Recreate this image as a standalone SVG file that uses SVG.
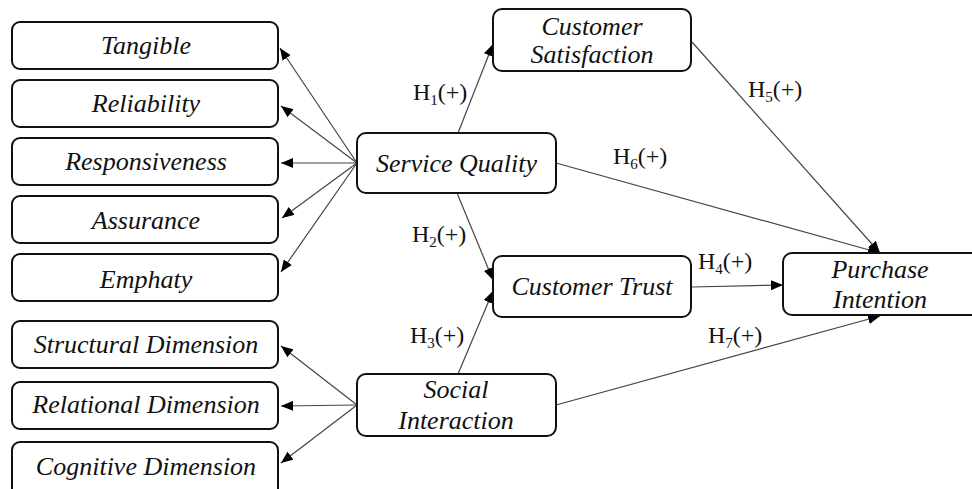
<svg xmlns="http://www.w3.org/2000/svg" width="972" height="489" viewBox="0 0 972 489">
<defs>
<marker id="ah" markerUnits="userSpaceOnUse" markerWidth="12" markerHeight="10" refX="12" refY="5" orient="auto">
<path d="M0,0 L12,5 L0,10 z" fill="#000"/>
</marker>
<style>
.box{fill:#fff;stroke:#111;stroke-width:2}
.nt{font-family:"Liberation Serif","Times New Roman",serif;font-size:26px;font-style:italic;fill:#111;text-anchor:middle}
.h{font-family:"Liberation Serif","Times New Roman",serif;font-size:24px;fill:#111}
.sub{font-size:15px}
.c{stroke:#444;stroke-width:1.2;fill:none;marker-end:url(#ah)}
</style>
</defs>
<rect width="972" height="489" fill="#fff"/>
<g id="connectors">
<line class="c" x1="357" y1="163" x2="280" y2="48"/>
<line class="c" x1="357" y1="163" x2="281" y2="106"/>
<line class="c" x1="357" y1="163" x2="281" y2="163"/>
<line class="c" x1="357" y1="163" x2="282" y2="218"/>
<line class="c" x1="357" y1="163" x2="281" y2="272"/>
<line class="c" x1="357" y1="405" x2="281" y2="346"/>
<line class="c" x1="357" y1="405" x2="281" y2="406"/>
<line class="c" x1="357" y1="405" x2="281" y2="463"/>
<line class="c" x1="458" y1="133" x2="493" y2="44"/>
<line class="c" x1="457" y1="193" x2="493" y2="280"/>
<line class="c" x1="458" y1="374" x2="493" y2="291"/>
<line class="c" x1="692" y1="42" x2="880" y2="253"/>
<line class="c" x1="556" y1="163" x2="880" y2="253"/>
<line class="c" x1="692" y1="287" x2="783" y2="285"/>
<line class="c" x1="556" y1="405" x2="880" y2="316"/>
</g>
<g id="labels">
<text class="h" x="413" y="100">H<tspan class="sub" dy="5">1</tspan><tspan dy="-5">(+)</tspan></text>
<text class="h" x="412" y="242">H<tspan class="sub" dy="5">2</tspan><tspan dy="-5">(+)</tspan></text>
<text class="h" x="410" y="343">H<tspan class="sub" dy="5">3</tspan><tspan dy="-5">(+)</tspan></text>
<text class="h" x="698" y="269">H<tspan class="sub" dy="5">4</tspan><tspan dy="-5">(+)</tspan></text>
<text class="h" x="748" y="97">H<tspan class="sub" dy="5">5</tspan><tspan dy="-5">(+)</tspan></text>
<text class="h" x="613" y="164">H<tspan class="sub" dy="5">6</tspan><tspan dy="-5">(+)</tspan></text>
<text class="h" x="708" y="343">H<tspan class="sub" dy="5">7</tspan><tspan dy="-5">(+)</tspan></text>
</g>
<g id="tangible"><rect class="box" x="12" y="22" width="266" height="47" rx="8"/><text class="nt" x="146" y="54">Tangible</text></g>
<g id="reliability"><rect class="box" x="12" y="80" width="266" height="47" rx="8"/><text class="nt" x="146" y="112">Reliability</text></g>
<g id="responsiveness"><rect class="box" x="12" y="138" width="266" height="47" rx="8"/><text class="nt" x="146" y="170">Responsiveness</text></g>
<g id="assurance"><rect class="box" x="12" y="196" width="266" height="47" rx="8"/><text class="nt" x="146" y="229">Assurance</text></g>
<g id="emphaty"><rect class="box" x="12" y="254" width="266" height="47" rx="8"/><text class="nt" x="146" y="288">Emphaty</text></g>
<g id="structural"><rect class="box" x="12" y="321" width="266" height="47" rx="8"/><text class="nt" x="146" y="353">Structural Dimension</text></g>
<g id="relational"><rect class="box" x="12" y="382" width="266" height="47" rx="8"/><text class="nt" x="146" y="413">Relational Dimension</text></g>
<g id="cognitive"><rect class="box" x="12" y="442" width="266" height="60" rx="8"/><text class="nt" x="146" y="475">Cognitive Dimension</text></g>
<g id="service-quality"><rect class="box" x="357" y="133" width="199" height="60" rx="9"/><text class="nt" x="456.5" y="172">Service Quality</text></g>
<g id="customer-satisfaction"><rect class="box" x="493" y="9" width="198" height="62" rx="9"/><text class="nt" x="592" y="35">Customer</text><text class="nt" x="592" y="63">Satisfaction</text></g>
<g id="customer-trust"><rect class="box" x="493" y="256" width="198" height="61" rx="9"/><text class="nt" x="592" y="295">Customer Trust</text></g>
<g id="social-interaction"><rect class="box" x="357" y="374" width="199" height="62" rx="9"/><text class="nt" x="456" y="398">Social</text><text class="nt" x="456" y="429">Interaction</text></g>
<g id="purchase-intention"><rect class="box" x="783" y="253" width="200" height="62" rx="9"/><text class="nt" x="880" y="278">Purchase</text><text class="nt" x="880" y="308">Intention</text></g>
</svg>
